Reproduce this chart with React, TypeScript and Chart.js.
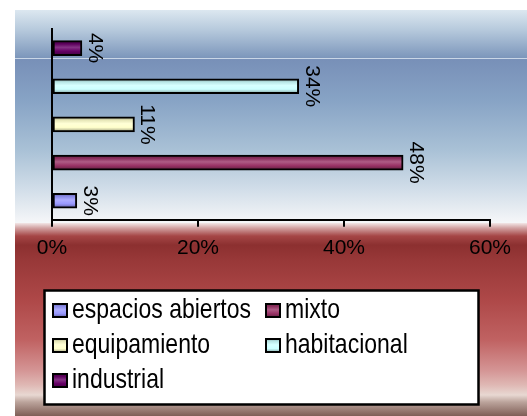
import React, { useEffect, useRef } from 'react';
import { Chart, registerables } from 'chart.js';

Chart.register(...registerables);

// Categories from top to bottom of the plot
const categories = ['industrial', 'habitacional', 'equipamiento', 'mixto', 'espacios abiertos'];
// Percent values
const values = [4.1, 33.8, 11.3, 48.1, 3.4];
const barColors = ['#660066', '#CCFFFF', '#FFFFCC', '#993366', '#9999FF'];
// Legend order (row-wise, two columns)
const legendOrder = ['espacios abiertos', 'mixto', 'equipamiento', 'habitacional', 'industrial'];
const xMin = 0;
const xMax = 60;
const xStep = 20;

const FONT = '"Liberation Sans", Arial, sans-serif';

function hexToRgb(hex: string) {
  const h = hex.replace('#', '');
  return [parseInt(h.slice(0, 2), 16), parseInt(h.slice(2, 4), 16), parseInt(h.slice(4, 6), 16)];
}
function shade(hex: string, f: number) {
  const [r, g, b] = hexToRgb(hex);
  if (f < 1) return `rgb(${Math.round(r * f)},${Math.round(g * f)},${Math.round(b * f)})`;
  const t = f - 1;
  return `rgb(${Math.round(r + (255 - r) * t)},${Math.round(g + (255 - g) * t)},${Math.round(b + (255 - b) * t)})`;
}
function barGradient(ctx: CanvasRenderingContext2D, color: string, y0: number, y1: number) {
  const g = ctx.createLinearGradient(0, y0, 0, y1);
  g.addColorStop(0, shade(color, 0.62));
  g.addColorStop(0.22, shade(color, 0.9));
  g.addColorStop(0.45, shade(color, 1.2));
  g.addColorStop(0.7, color);
  g.addColorStop(1, shade(color, 0.6));
  return g;
}

const BAR_THICKNESS = 15;

const backgroundPlugin = {
  id: 'bgPlugin',
  beforeDraw(chart: any) {
    const ctx: CanvasRenderingContext2D = chart.ctx;
    const W = chart.width;
    const H = chart.height;
    ctx.save();
    ctx.fillStyle = '#ffffff';
    ctx.fillRect(0, 0, W, H);
    const left = 15;
    const top = 10;
    const mid = 223;
    const blue = ctx.createLinearGradient(0, top, 0, mid);
    const bs: [number, string][] = [
      [10, '#DCE7F0'], [30, '#B6C9DC'], [57, '#7E98BC'], [60, '#7890B8'], [100, '#87A3C5'],
      [150, '#A9C1D6'], [190, '#D2DEE9'], [222, '#F5F6F8'],
    ];
    bs.forEach(([y, c]) => blue.addColorStop((y - top) / (mid - top), c));
    ctx.fillStyle = blue;
    ctx.fillRect(left, top, W - left, mid - top);
    ctx.fillStyle = '#C9D6E6';
    ctx.fillRect(left, 58, W - left, 1);
    const red = ctx.createLinearGradient(0, mid, 0, H);
    const rs: [number, string][] = [
      [223, '#F2E6E6'], [228, '#D2A2A2'], [236, '#A54646'], [245, '#8C3030'], [260, '#983838'],
      [300, '#AE4848'], [340, '#C06262'], [370, '#D49494'], [385, '#DFB8B4'], [395, '#E8D8D2'],
      [402, '#BCA49C'], [416, '#7E5E56'],
    ];
    rs.forEach(([y, c]) => red.addColorStop((y - mid) / (H - mid), c));
    ctx.fillStyle = red;
    ctx.fillRect(left, mid, W - left, H - mid);
    ctx.restore();
  },
};

const labelsAndLegendPlugin = {
  id: 'labelsLegend',
  afterDraw(chart: any) {
    const ctx: CanvasRenderingContext2D = chart.ctx;
    const meta = chart.getDatasetMeta(0);
    // Data labels, rotated 90deg clockwise
    ctx.save();
    ctx.fillStyle = '#000';
    ctx.font = `21px ${FONT}`;
    ctx.textAlign = 'center';
    ctx.textBaseline = 'alphabetic';
    meta.data.forEach((el: any, i: number) => {
      const txt = Math.round(values[i]) + '%';
      ctx.save();
      ctx.translate(el.x + 7, el.y);
      ctx.rotate(Math.PI / 2);
      ctx.fillText(txt, 0, 0);
      ctx.restore();
    });
    ctx.restore();

    // Legend
    const bx = 44.5, by = 290.5, bw = 434, bh = 114;
    ctx.save();
    ctx.fillStyle = '#ffffff';
    ctx.fillRect(bx, by, bw, bh);
    ctx.strokeStyle = '#000';
    ctx.lineWidth = 2.5;
    ctx.strokeRect(bx, by, bw, bh);
    const colX = [52, 265];
    legendOrder.forEach((name, k) => {
      const col = k % 2;
      const row = Math.floor(k / 2);
      const baseline = 318 + row * 35;
      const x = colX[col];
      const color = barColors[categories.indexOf(name)];
      const sy = baseline - 15;
      const sw = 16, sh = 15;
      ctx.fillStyle = barGradient(ctx, color, sy, sy + sh);
      ctx.fillRect(x, sy, sw, sh);
      ctx.strokeStyle = '#000';
      ctx.lineWidth = 2;
      ctx.strokeRect(x + 1, sy + 1, sw - 2, sh - 2);
      ctx.save();
      ctx.translate(x + 20, baseline);
      ctx.scale(1, 1.18);
      ctx.fillStyle = '#000';
      ctx.font = `23px ${FONT}`;
      ctx.textAlign = 'left';
      ctx.textBaseline = 'alphabetic';
      ctx.fillText(name, 0, 0);
      ctx.restore();
    });
    ctx.restore();
  },
};

export default function App() {
  const canvasRef = useRef<HTMLCanvasElement | null>(null);

  useEffect(() => {
    if (!canvasRef.current) return;
    const chart = new Chart(canvasRef.current, {
      type: 'bar',
      data: {
        labels: categories,
        datasets: [
          {
            data: values,
            backgroundColor: (c: any) => {
              const ch = c.chart;
              const base = barColors[c.dataIndex] || '#999999';
              const ys = ch.scales && ch.scales.y;
              if (!ys || !ch.chartArea || c.dataIndex === undefined) return base;
              const yc = ys.getPixelForValue(c.dataIndex);
              return barGradient(ch.ctx, base, yc - BAR_THICKNESS / 2, yc + BAR_THICKNESS / 2);
            },
            borderColor: '#000000',
            borderWidth: 2,
            borderSkipped: false,
            barThickness: BAR_THICKNESS,
          } as any,
        ],
      },
      options: {
        indexAxis: 'y',
        responsive: false,
        devicePixelRatio: 1,
        animation: false,
        layout: { padding: { top: 29, left: 52, right: 37, bottom: 146 } },
        plugins: {
          legend: { display: false },
          tooltip: { enabled: false },
        },
        scales: {
          x: {
            min: xMin,
            max: xMax,
            ticks: {
              stepSize: xStep,
              callback: (v: any) => v + '%',
              color: '#000',
              font: { family: FONT, size: 21 },
              padding: 9,
              maxRotation: 0,
            },
            grid: {
              display: true,
              drawOnChartArea: false,
              drawTicks: true,
              tickLength: 7,
              color: '#000',
              lineWidth: 2,
            },
            border: { display: true, color: '#000', width: 2 },
          },
          y: {
            ticks: { display: false },
            grid: { display: false, drawTicks: false },
            border: { display: true, color: '#000', width: 2 },
          },
        },
      } as any,
      plugins: [backgroundPlugin, labelsAndLegendPlugin],
    });
    return () => chart.destroy();
  }, []);

  return (
    <div style={{ position: 'absolute', left: 0, top: 0, width: 527, height: 416 }}>
      <canvas ref={canvasRef} width={527} height={416} style={{ display: 'block', width: 527, height: 416 }} />
    </div>
  );
}
